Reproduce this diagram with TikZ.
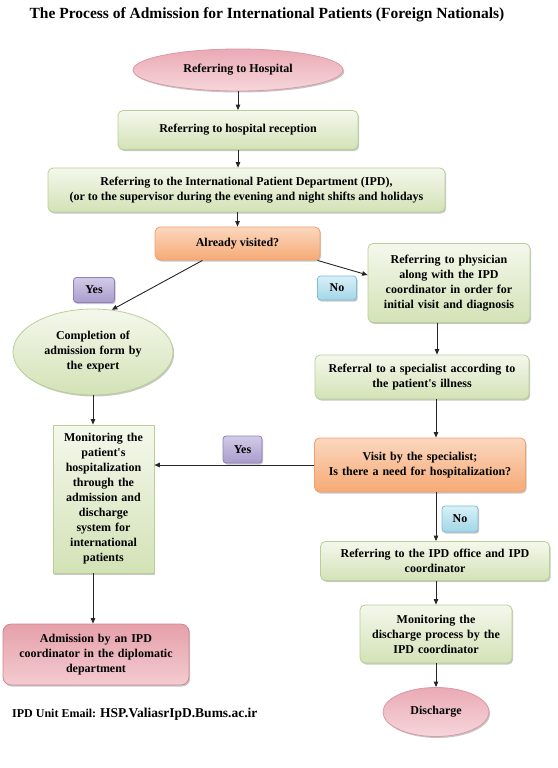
\documentclass[tikz,border=0pt]{standalone}
\usepackage{fontspec}
\setmainfont{Liberation Serif}[Ligatures=TeXOff]
\usetikzlibrary{shapes.geometric,shadows,arrows.meta,calc}
\definecolor{grTop}{HTML}{F4F8EC}
\definecolor{grBot}{HTML}{D3E2B6}
\definecolor{grLine}{HTML}{B9CF95}
\definecolor{orTop}{HTML}{FBD7BF}
\definecolor{orBot}{HTML}{F6AA75}
\definecolor{orLine}{HTML}{F0A068}
\definecolor{pkTop}{HTML}{EBAAB5}
\definecolor{pkBot}{HTML}{F6D6DB}
\definecolor{pkLine}{HTML}{D99AA5}
\definecolor{rdTop}{HTML}{E6A0AA}
\definecolor{rdBot}{HTML}{F3CBD0}
\definecolor{rdLine}{HTML}{D28592}
\definecolor{puTop}{HTML}{D2CBE7}
\definecolor{puBot}{HTML}{A99CCD}
\definecolor{puLine}{HTML}{8F7FBA}
\definecolor{blTop}{HTML}{D8F0F7}
\definecolor{blBot}{HTML}{A3D6E7}
\definecolor{blLine}{HTML}{7DBFD6}
\newcommand{\bodyfont}{\fontsize{12}{15}\selectfont\bfseries}
\tikzset{
  base/.style={align=center, font=\bodyfont, inner sep=2pt,
    drop shadow={shadow xshift=1.2pt, shadow yshift=-1.5pt, fill=black, opacity=0.22}},
  greenbox/.style={base, rectangle, rounded corners=5pt, draw=grLine, line width=0.8pt,
    top color=grTop, bottom color=grBot},
  orangebox/.style={base, rectangle, rounded corners=5pt, draw=orLine, line width=0.8pt,
    top color=orTop, bottom color=orBot},
  redbox/.style={base, rectangle, rounded corners=8pt, draw=rdLine, line width=0.8pt,
    top color=rdTop, bottom color=rdBot},
  pinkell/.style={base, ellipse, draw=pkLine, line width=0.8pt,
    top color=pkTop, bottom color=pkBot},
  greenell/.style={base, ellipse, draw=grLine, line width=0.8pt,
    top color=grTop, bottom color=grBot},
  yeslabel/.style={base, rectangle, rounded corners=3pt, draw=puLine, line width=0.8pt,
    top color=puTop, bottom color=puBot},
  nolabel/.style={base, rectangle, rounded corners=3pt, draw=blLine, line width=0.8pt,
    top color=blTop, bottom color=blBot},
  arr/.style={draw=black!85, line width=0.9pt, -{Triangle[length=5.5pt,width=4.5pt]}},
}
\begin{document}
\begin{tikzpicture}[x=1pt,y=-1pt]
\useasboundingbox (0,0) rectangle (557,768);

\node[font=\fontsize{15.5}{18}\selectfont\bfseries] (title) at (267,15)
  {The Process of Admission for International Patients (Foreign Nationals)};

\node[pinkell, minimum width=210pt, minimum height=42pt] (hosp) at (238,70) {Referring to Hospital};
\node[greenbox, minimum width=240pt, minimum height=39pt] (recep) at (238,130) {Referring to hospital reception};
\node[greenbox, minimum width=397pt, minimum height=44pt] (ipd) at (246.5,190)
  {Referring to the International Patient Department (IPD),\\(or to the supervisor during the evening and night shifts and holidays};
\node[orangebox, minimum width=165pt, minimum height=33pt] (visited) at (237.5,243.5) {Already visited?};
\node[greenbox, minimum width=162pt, minimum height=79pt, text width=155pt] (phys) at (449,283)
  {Referring to physician\\along with the IPD\\coordinator in order for\\initial visit and diagnosis};
\node[yeslabel, minimum width=41pt, minimum height=25pt] (yes1) at (94,290) {Yes};
\node[nolabel, minimum width=39pt, minimum height=24pt] (no1) at (337,288) {No};
\node[greenell, inner sep=0pt, minimum width=160pt, minimum height=86pt, text width=100pt] (form) at (93,352)
  {Completion of\\admission form by\\the expert};
\node[greenbox, minimum width=214pt, minimum height=44pt, text width=208pt] (spec) at (422,377)
  {Referral to a specialist according to\\the patient's illness};
\node[greenbox, rounded corners=0pt, minimum width=101pt, minimum height=148pt, text width=95pt] (mon) at (103.5,499)
  {Monitoring the\\patient's\\hospitalization\\through the\\admission and\\discharge\\system for\\international\\patients};
\node[yeslabel, minimum width=39pt, minimum height=27pt] (yes2) at (242.5,449.5) {Yes};
\node[orangebox, minimum width=211pt, minimum height=54pt, text width=205pt] (need) at (420,465)
  {Visit by the specialist;\\Is there a need for hospitalization?};
\node[nolabel, minimum width=36pt, minimum height=26pt] (no2) at (460,519) {No};
\node[greenbox, minimum width=229pt, minimum height=39pt, text width=222pt] (office) at (435,561)
  {Referring to the IPD office and IPD\\coordinator};
\node[greenbox, minimum width=152pt, minimum height=58pt, text width=148pt] (mdis) at (436,634)
  {Monitoring the\\discharge process by the\\IPD coordinator};
\node[pinkell, minimum width=106pt, minimum height=49pt] (dis) at (436,712) {Discharge};
\node[redbox, minimum width=186pt, minimum height=61pt, text width=178pt] (adm) at (96,654.5)
  {Admission by an IPD\\coordinator in the diplomatic\\department};
\node[anchor=west, font=\bfseries, inner sep=0pt] (email) at (12,714)
  {\fontsize{12}{14}\selectfont IPD Unit Email: \fontsize{13.5}{14}\selectfont HSP.ValiasrIpD.Bums.ac.ir};

% connectors
\draw[arr] (hosp.south) -- (hosp.south |- recep.north);
\draw[arr] (recep.south) -- (recep.south |- ipd.north);
\draw[arr] (ipd.south -| visited.north) -- (visited.north);
\draw[arr] ($(visited.south)+(-35,0)$) -- (form.66);
\draw[arr] ($(visited.south east)+(-3,0)$) -- ($(phys.west)+(0,-8)$);
\draw[arr] ($(phys.south)+(-12,0)$) -- ($(spec.north)+(15,0)$);
\draw[arr] (form.south) -- (form.south |- mon.north);
\draw[arr] ($(spec.south)+(14,0)$) -- ($(need.north)+(16,0)$);
\draw[arr] (need.west) -- (mon.east |- need.west);
\draw[arr] ($(need.south)+(16,0)$) -- ($(office.north)+(1,0)$);
\draw[arr] ($(office.south)+(1,0)$) -- (mdis.north);
\draw[arr] (mdis.south) -- (dis.north);
\draw[arr] (mon.south -| form.south) -- (form.south |- adm.north);
\end{tikzpicture}
\end{document}
